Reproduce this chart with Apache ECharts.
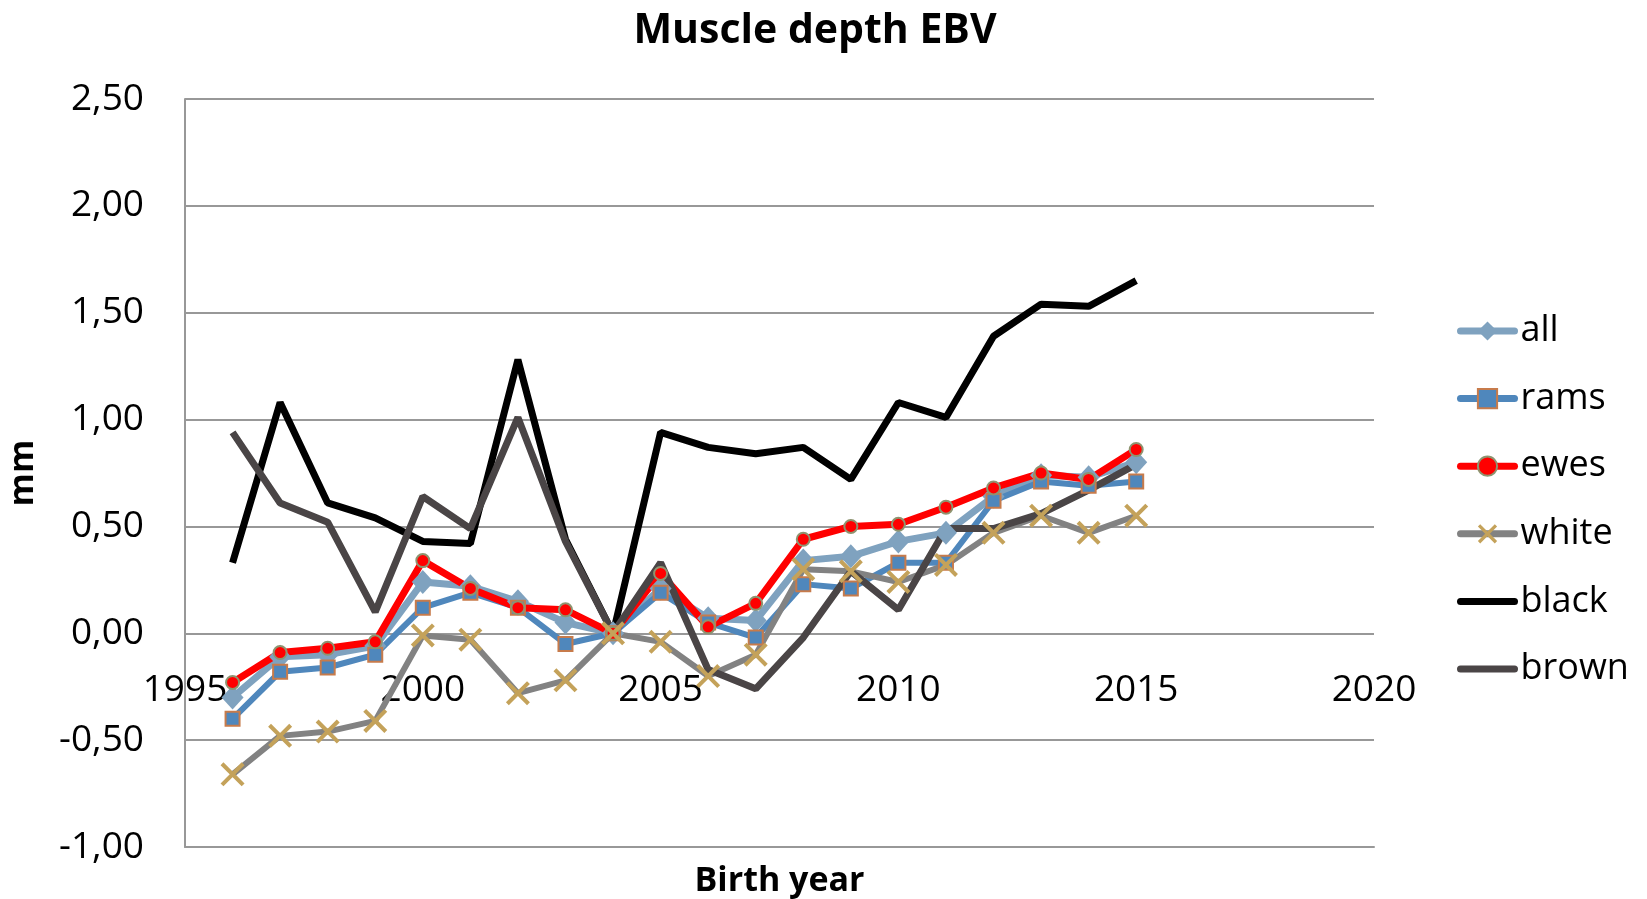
<!DOCTYPE html>
<html>
<head>
<meta charset="utf-8">
<title>Muscle depth EBV</title>
<script src="https://cdn.jsdelivr.net/npm/echarts@6/dist/echarts.min.js"></script>
<style>
  html, body { margin: 0; padding: 0; background: #fff; }
  #chart { width: 1647px; height: 899px; }
</style>
</head>
<body>
<div id="chart"></div>
<script>
// birth years on the x axis
const years = [1996, 1997, 1998, 1999, 2000, 2001, 2002, 2003, 2004, 2005,
               2006, 2007, 2008, 2009, 2010, 2011, 2012, 2013, 2014, 2015]

// mean EBV per birth year (mm)
const allVals   = [-0.30, -0.11, -0.10, -0.06, 0.24, 0.22, 0.15, 0.05, 0.00, 0.21,
                   0.07, 0.06, 0.34, 0.36, 0.43, 0.47, 0.64, 0.74, 0.73, 0.80]
const ramsVals  = [-0.40, -0.18, -0.16, -0.10, 0.12, 0.19, 0.12, -0.05, 0.00, 0.19,
                   0.05, -0.02, 0.23, 0.21, 0.33, 0.33, 0.62, 0.71, 0.69, 0.71]
const ewesVals  = [-0.23, -0.09, -0.07, -0.04, 0.34, 0.21, 0.12, 0.11, 0.00, 0.28,
                   0.03, 0.14, 0.44, 0.50, 0.51, 0.59, 0.68, 0.75, 0.72, 0.86]
const whiteVals = [-0.66, -0.48, -0.46, -0.41, -0.01, -0.03, -0.28, -0.22, 0.00, -0.04,
                   -0.20, -0.10, 0.30, 0.29, 0.24, 0.32, 0.47, 0.55, 0.47, 0.55]
const blackVals = [0.33, 1.08, 0.61, 0.54, 0.43, 0.42, 1.28, 0.44, 0.00, 0.94,
                   0.87, 0.84, 0.87, 0.72, 1.08, 1.01, 1.39, 1.54, 1.53, 1.65]
const brownVals = [0.94, 0.61, 0.52, 0.10, 0.64, 0.49, 1.01, 0.43, 0.00, 0.33,
                   -0.17, -0.26, -0.02, 0.29, 0.11, 0.49, 0.49, 0.56, 0.67, 0.79]

const seriesNames = ['all', 'rams', 'ewes', 'white', 'black', 'brown']

const FONT = '"Open Sans", "DejaVu Sans", sans-serif'
const GRID_COLOR = '#989898'
// filled X shape for the "white" markers
const CROSS = 'path://M0,1.2L1.2,0L10,8.8L8.8,10Z M8.8,0L10,1.2L1.2,10L0,8.8Z'

const pairs = vals => years.map((y, i) => [y, vals[i]])

const chart = echarts.init(document.getElementById('chart'))

const option = {
  animation: false,
  backgroundColor: '#fff',
  title: {
    text: 'Muscle depth EBV',
    left: 810,
    textAlign: 'center',
    top: 4,
    textStyle: { fontFamily: FONT, fontWeight: 'bold', fontSize: 41, lineHeight: 44, color: '#000' }
  },
  grid: {
    left: 185,
    right: 273,
    top: 99,
    bottom: 52,
    outerBoundsMode: 'none',
    containLabel: false
  },
  legend: {
    orient: 'vertical',
    left: 1452,
    top: 308,
    itemWidth: 54,
    itemHeight: 24,
    itemGap: 31.6,
    lineStyle: { width: 7, cap: 'round' },
    data: seriesNames.map(n => (n === 'black' || n === 'brown')
      ? { name: n, itemStyle: { opacity: 0 } }
      : { name: n }),
    textStyle: { fontFamily: FONT, fontSize: 36, lineHeight: 32, color: '#000', padding: [0, 0, 0, 1] }
  },
  xAxis: {
    type: 'value',
    min: 1995,
    max: 2020,
    interval: 5,
    name: 'Birth year',
    nameLocation: 'middle',
    nameGap: 17,
    nameTextStyle: { fontFamily: FONT, fontWeight: 'bold', fontSize: 34, color: '#000' },
    // labels sit just under the zero line, as in the original
    axisLine: { show: true, onZero: false, lineStyle: { color: GRID_COLOR, width: 2 } },
    axisTick: { show: false },
    splitLine: { show: false },
    axisLabel: {
      fontFamily: FONT, fontSize: 37, lineHeight: 36, color: '#000', margin: -175,
      showMinLabel: true, showMaxLabel: true,
      formatter: v => String(v)
    }
  },
  yAxis: {
    type: 'value',
    min: -1,
    max: 2.5,
    interval: 0.5,
    name: 'mm',
    nameLocation: 'middle',
    nameGap: 145,
    nameRotate: 90,
    nameTextStyle: { fontFamily: FONT, fontWeight: 'bold', fontSize: 34, color: '#000' },
    axisLine: { show: true, lineStyle: { color: GRID_COLOR, width: 2 } },
    axisTick: { show: false },
    splitLine: { show: true, lineStyle: { color: GRID_COLOR, width: 2 } },
    axisLabel: {
      fontFamily: FONT, fontSize: 37, color: '#000', margin: 41,
      formatter: v => v.toFixed(2).replace('.', ',')
    }
  },
  series: [
    {
      name: 'all',
      type: 'line',
      data: pairs(allVals),
      symbol: 'diamond',
      symbolSize: [22, 24],
      lineStyle: { color: '#7FA2BF', width: 7 },
      itemStyle: { color: '#7FA2BF', borderColor: '#7FA2BF', borderWidth: 0 }
    },
    {
      name: 'rams',
      type: 'line',
      data: pairs(ramsVals),
      symbol: 'rect',
      symbolSize: 14,
      lineStyle: { color: '#4F87BC', width: 6 },
      itemStyle: { color: '#4F87BC', borderColor: '#C77B4B', borderWidth: 2 }
    },
    {
      name: 'ewes',
      type: 'line',
      data: pairs(ewesVals),
      symbol: 'circle',
      symbolSize: 13,
      lineStyle: { color: '#FF0000', width: 7 },
      itemStyle: { color: '#FF0000', borderColor: '#8E9470', borderWidth: 2 }
    },
    {
      name: 'white',
      type: 'line',
      data: pairs(whiteVals),
      symbol: CROSS,
      symbolSize: 24,
      lineStyle: { color: '#828282', width: 6 },
      itemStyle: { color: '#C4A25A', borderWidth: 0 }
    },
    {
      name: 'black',
      type: 'line',
      data: pairs(blackVals),
      showSymbol: false,
      symbol: 'none',
      lineStyle: { color: '#000000', width: 7 },
      itemStyle: { color: '#000000' }
    },
    {
      name: 'brown',
      type: 'line',
      data: pairs(brownVals),
      showSymbol: false,
      symbol: 'none',
      lineStyle: { color: '#4A4546', width: 7 },
      itemStyle: { color: '#4A4546' }
    }
  ]
}

chart.setOption(option)
</script>
</body>
</html>
